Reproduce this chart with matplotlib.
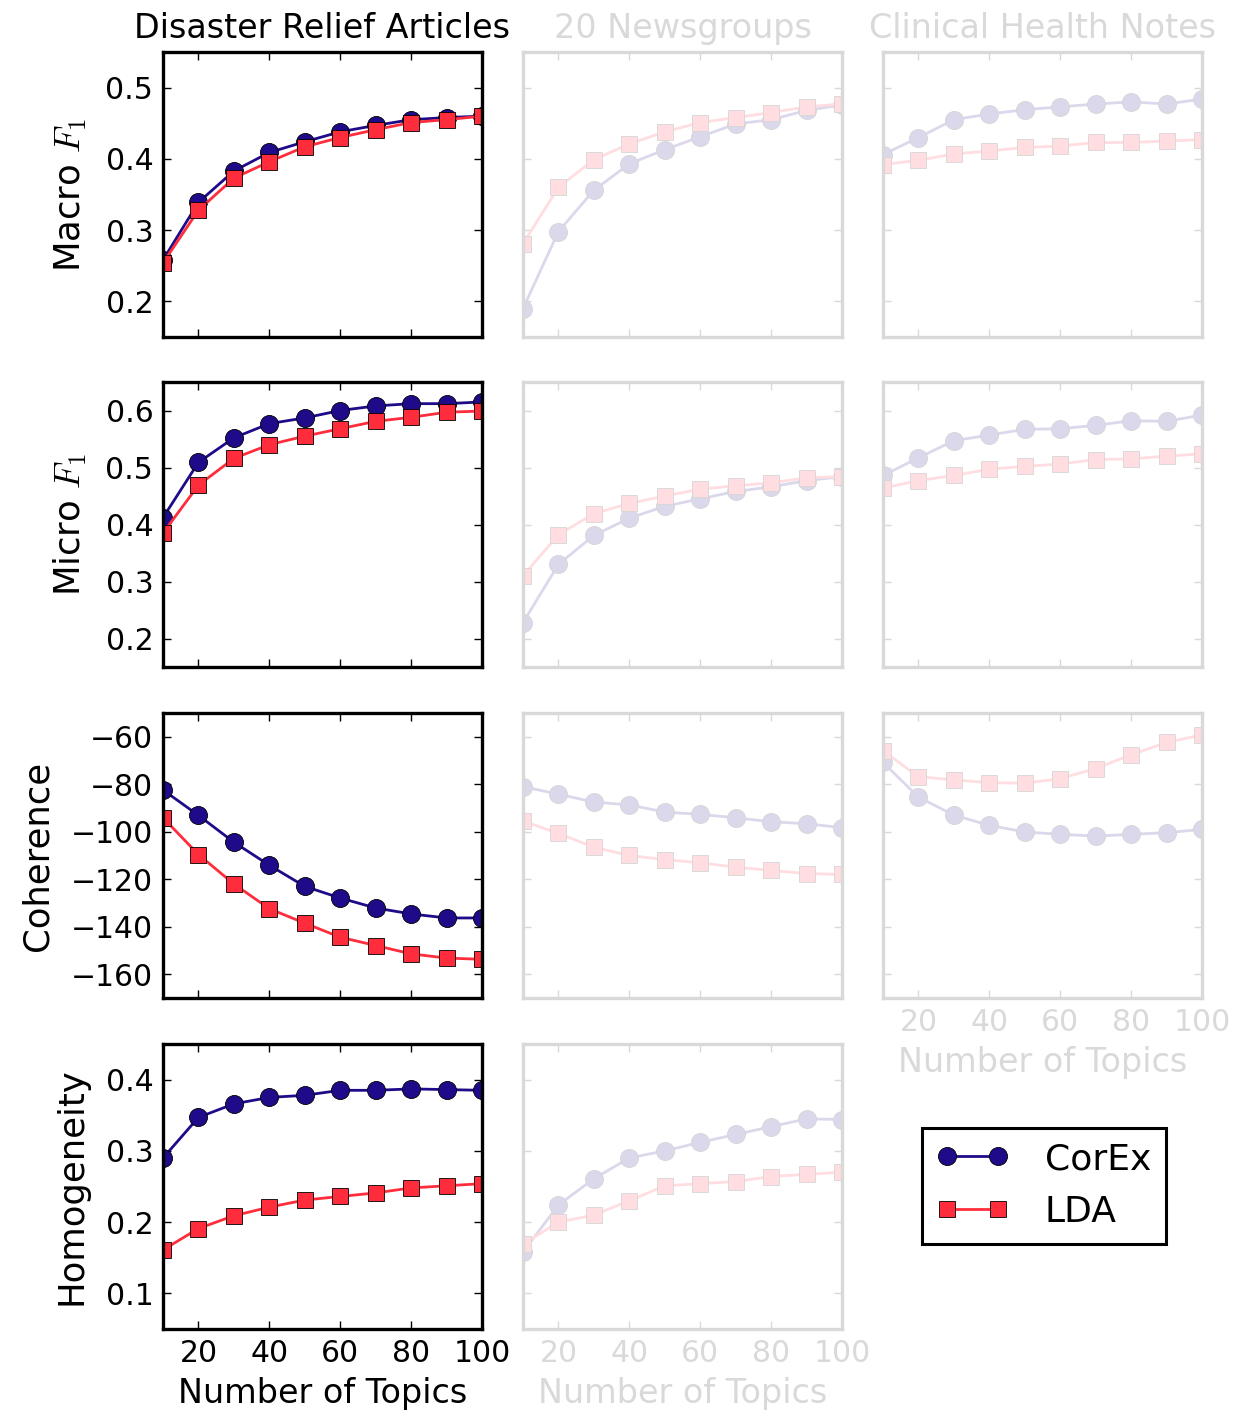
import matplotlib
matplotlib.use("Agg")
import matplotlib.pyplot as plt
import numpy as np
from matplotlib.colors import to_rgb

plt.rcParams['font.family'] = ['DejaVu Sans']
plt.rcParams['mathtext.fontset'] = 'cm'

# ---- data -------------------------------------------------------------
topics = [10, 20, 30, 40, 50, 60, 70, 80, 90, 100]
datasets = ['Disaster Relief Articles', '20 Newsgroups', 'Clinical Health Notes']
metrics = ['Macro $F_1$', 'Micro $F_1$', 'Coherence', 'Homogeneity']

# Macro F1
macro_corex_disaster = [0.258, 0.339, 0.383, 0.409, 0.424, 0.438, 0.447, 0.455, 0.458, 0.460]
macro_lda_disaster = [0.254, 0.328, 0.373, 0.396, 0.417, 0.430, 0.441, 0.451, 0.455, 0.460]
macro_corex_news = [0.190, 0.298, 0.356, 0.393, 0.413, 0.431, 0.449, 0.455, 0.468, 0.476]
macro_lda_news = [0.281, 0.360, 0.399, 0.421, 0.438, 0.451, 0.458, 0.465, 0.473, 0.477]
macro_corex_clinical = [0.406, 0.430, 0.455, 0.463, 0.469, 0.473, 0.477, 0.480, 0.477, 0.484]
macro_lda_clinical = [0.392, 0.398, 0.407, 0.411, 0.416, 0.418, 0.423, 0.423, 0.425, 0.427]

# Micro F1
micro_corex_disaster = [0.412, 0.509, 0.552, 0.577, 0.587, 0.600, 0.608, 0.612, 0.612, 0.615]
micro_lda_disaster = [0.385, 0.469, 0.516, 0.540, 0.555, 0.568, 0.581, 0.588, 0.597, 0.599]
micro_corex_news = [0.228, 0.330, 0.381, 0.411, 0.432, 0.445, 0.458, 0.466, 0.477, 0.484]
micro_lda_news = [0.310, 0.382, 0.419, 0.437, 0.450, 0.462, 0.468, 0.473, 0.482, 0.484]
micro_corex_clinical = [0.486, 0.517, 0.547, 0.557, 0.567, 0.568, 0.574, 0.582, 0.581, 0.592]
micro_lda_clinical = [0.464, 0.477, 0.486, 0.497, 0.502, 0.506, 0.514, 0.515, 0.520, 0.524]

# Coherence
coh_corex_disaster = [-82.4, -93.1, -104.4, -114.1, -123.0, -127.9, -132.1, -134.6, -136.3, -136.3]
coh_lda_disaster = [-94.1, -109.6, -122.0, -132.4, -138.5, -144.4, -147.9, -151.4, -153.2, -153.7]
coh_corex_news = [-81.0, -84.2, -87.5, -88.7, -91.7, -92.7, -94.1, -95.8, -96.6, -98.3]
coh_lda_news = [-95.5, -100.7, -106.5, -110.0, -111.7, -113.1, -114.9, -116.3, -117.6, -118.0]
coh_corex_clinical = [-70.8, -85.4, -93.0, -97.3, -100.1, -101.1, -101.8, -101.1, -100.4, -99.0]
coh_lda_clinical = [-65.9, -76.8, -78.2, -79.3, -79.6, -77.6, -73.4, -67.6, -62.4, -59.2]

# Homogeneity (no clinical panel)
hom_corex_disaster = [0.290, 0.347, 0.366, 0.375, 0.378, 0.385, 0.385, 0.387, 0.386, 0.385]
hom_lda_disaster = [0.161, 0.191, 0.209, 0.221, 0.231, 0.236, 0.241, 0.248, 0.251, 0.254]
hom_corex_news = [0.158, 0.224, 0.261, 0.290, 0.300, 0.312, 0.323, 0.334, 0.345, 0.344]
hom_lda_news = [0.169, 0.200, 0.210, 0.230, 0.251, 0.254, 0.257, 0.264, 0.267, 0.270]

results = [
    [(macro_corex_disaster, macro_lda_disaster), (macro_corex_news, macro_lda_news),
     (macro_corex_clinical, macro_lda_clinical)],
    [(micro_corex_disaster, micro_lda_disaster), (micro_corex_news, micro_lda_news),
     (micro_corex_clinical, micro_lda_clinical)],
    [(coh_corex_disaster, coh_lda_disaster), (coh_corex_news, coh_lda_news),
     (coh_corex_clinical, coh_lda_clinical)],
    [(hom_corex_disaster, hom_lda_disaster), (hom_corex_news, hom_lda_news), None],
]
ylims = [(0.15, 0.55), (0.15, 0.65), (-170, -50), (0.05, 0.45)]
yticks = [[0.2, 0.3, 0.4, 0.5], [0.2, 0.3, 0.4, 0.5, 0.6],
          [-160, -140, -120, -100, -80, -60], [0.1, 0.2, 0.3, 0.4]]
xticks = [20, 40, 60, 80, 100]

COREX = '#1f0a8a'
LDA = '#ff2d3c'
FADE = 0.16


def fade(c, on):
    # blend a colour toward white for the de-emphasised panels
    if on:
        return c
    r = np.array(to_rgb(c))
    return tuple(1 - FADE * (1 - r))


fig = plt.figure(figsize=(12.34, 14.12), dpi=100)

lefts = [163, 523, 883]
tops = [52, 382, 713, 1044]
W, H = 319, 285
FW, FH = 1234, 1412

for i in range(4):
    for j in range(3):
        if results[i][j] is None:
            continue
        on = (j == 0)
        ax = fig.add_axes([lefts[j] / FW, 1 - (tops[i] + H) / FH, W / FW, H / FH])
        corex, lda = results[i][j]
        ax.plot(topics, corex, '-o', color=fade(COREX, on), lw=2.0, ms=13,
                mfc=fade(COREX, on), mec=fade('k', on), mew=0.6, label='CorEx')
        ax.plot(topics, lda, '-s', color=fade(LDA, on), lw=2.0, ms=12,
                mfc=fade(LDA, on), mec=fade('k', on), mew=0.6, label='LDA')
        ax.set_xlim(10, 100)
        ax.set_ylim(*ylims[i])
        ax.set_xticks(xticks)
        ax.set_yticks(yticks[i])
        edge = fade('k', on) if on else '#d9d9d9'
        for s in ax.spines.values():
            s.set_linewidth(2.4)
            s.set_color(edge)
        ax.tick_params(direction='in', top=True, right=True, length=6, width=1,
                       color=edge, labelcolor=edge, labelsize=21.5, pad=7)
        if j > 0:
            ax.set_yticklabels([])
        else:
            ax.set_ylabel(metrics[i], fontsize=25.5, labelpad=12)
        if i == 0:
            ax.set_title(datasets[j], fontsize=24, color=edge, pad=10)
        bottom_row = (i == 3) or (i == 2 and j == 2)
        if bottom_row:
            ax.set_xlabel('Number of Topics', fontsize=24, color=edge, labelpad=7)
        else:
            ax.set_xticklabels([])
        if i == 0 and j == 0:
            handles, labels = ax.get_legend_handles_labels()

leg = fig.legend(handles, labels, loc='upper left', bbox_to_anchor=(922 / FW, 1 - 1128 / FH),
                 fontsize=26, fancybox=False, edgecolor='k', framealpha=1, numpoints=2,
                 handlelength=2.0, borderpad=0.4, labelspacing=0.5, handletextpad=1.0,
                 borderaxespad=0, handleheight=0.9)
leg.get_frame().set_linewidth(2.2)

fig.savefig('out.png', dpi=100)
